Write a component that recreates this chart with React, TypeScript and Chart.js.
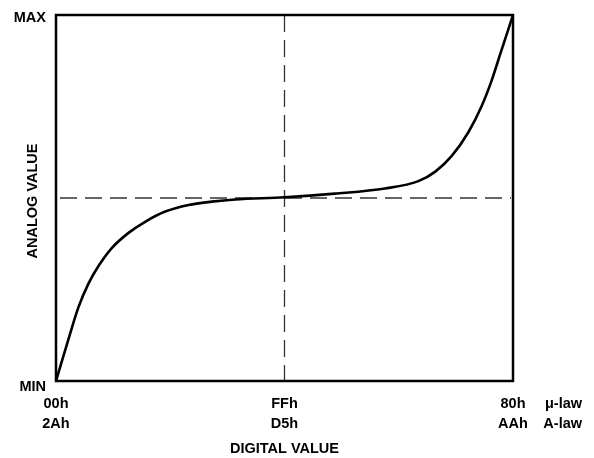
import React, { useEffect, useRef } from "react";
import { Chart, registerables } from "chart.js";

Chart.register(...registerables);

// Digital code position (0..100 % of code range) and analog value (0..100 % of range)
const codePos: number[] = [0, 2.7, 4.9, 7.1, 9.3, 12.2, 15.8, 19.5, 23.9, 29.0, 34.1, 39.2, 50.0, 61.0, 72.0, 79.3, 83.0, 86.6, 90.2, 93.2, 95.3, 97.2, 100];
const analogVal: number[] = [0, 11.3, 20.1, 26.6, 31.4, 36.3, 40.4, 43.5, 46.3, 48.1, 49.0, 49.6, 50.2, 51.2, 52.6, 54.6, 57.2, 61.5, 67.9, 75.3, 82.0, 89.3, 100];

const xTickValues: number[] = [0, 50, 100];
const muLawLabels: string[] = ["00h", "FFh", "80h"];
const aLawLabels: string[] = ["2Ah", "D5h", "AAh"];
const lawNames: string[] = ["\u03bc-law", "A-law"];
const yTickValues: number[] = [100, 0];
const yTickLabels: string[] = ["MAX", "MIN"];
const xTitle = "DIGITAL VALUE";
const yTitle = "ANALOG VALUE";
const midValue = 50;

const FONT = "bold 14.5px 'Liberation Sans', Arial, sans-serif";

const decorPlugin = {
  id: "decor",
  beforeDatasetsDraw(chart: any) {
    const { ctx, chartArea, scales } = chart;
    const x = scales.x, y = scales.y;
    ctx.save();
    ctx.strokeStyle = "#333";
    ctx.lineWidth = 1.3;
    ctx.setLineDash([17, 8]);
    const ym = y.getPixelForValue(midValue);
    ctx.beginPath();
    ctx.moveTo(chartArea.left + 4, ym);
    ctx.lineTo(chartArea.right - 2, ym);
    ctx.stroke();
    const xm = x.getPixelForValue(midValue);
    ctx.beginPath();
    ctx.moveTo(xm, chartArea.top);
    ctx.lineTo(xm, chartArea.bottom);
    ctx.stroke();
    ctx.restore();
  },
  afterDraw(chart: any) {
    const { ctx, chartArea, scales } = chart;
    const x = scales.x, y = scales.y;
    ctx.save();
    // frame
    ctx.strokeStyle = "#000";
    ctx.lineWidth = 2.5;
    ctx.strokeRect(chartArea.left, chartArea.top, chartArea.right - chartArea.left, chartArea.bottom - chartArea.top);
    ctx.fillStyle = "#000";
    ctx.font = FONT;
    ctx.textBaseline = "middle";
    // y labels
    ctx.textAlign = "right";
    yTickValues.forEach((v, i) => {
      const py = y.getPixelForValue(v);
      ctx.fillText(yTickLabels[i], chartArea.left - 10, py + (v === 0 ? 6 : 3));
    });
    // x labels
    ctx.textAlign = "center";
    xTickValues.forEach((v, i) => {
      const px = x.getPixelForValue(v);
      ctx.fillText(muLawLabels[i], px, chartArea.bottom + 23);
      ctx.fillText(aLawLabels[i], px, chartArea.bottom + 43);
    });
    ctx.textAlign = "right";
    ctx.fillText(lawNames[0], 582, chartArea.bottom + 23);
    ctx.fillText(lawNames[1], 582, chartArea.bottom + 43);
    // titles
    ctx.textAlign = "center";
    ctx.fillText(xTitle, (chartArea.left + chartArea.right) / 2, chartArea.bottom + 68);
    ctx.translate(33, (chartArea.top + chartArea.bottom) / 2 + 3);
    ctx.rotate(-Math.PI / 2);
    ctx.fillText(yTitle, 0, 0);
    ctx.restore();
  },
};

export default function App() {
  const ref = useRef<HTMLCanvasElement | null>(null);
  useEffect(() => {
    if (!ref.current) return;
    const chart = new Chart(ref.current, {
      type: "line",
      data: {
        datasets: [
          {
            data: codePos.map((c, i) => ({ x: c, y: analogVal[i] })),
            borderColor: "#000",
            borderWidth: 2.6,
            pointRadius: 0,
            cubicInterpolationMode: "monotone",
            fill: false,
          },
        ],
      },
      options: {
        animation: false,
        responsive: false,
        maintainAspectRatio: false,
        layout: { padding: { left: 56, top: 15, right: 81, bottom: 77 } },
        plugins: { legend: { display: false }, tooltip: { enabled: false } },
        scales: {
          x: { type: "linear", min: 0, max: 100, display: false },
          y: { type: "linear", min: 0, max: 100, display: false },
        },
      },
      plugins: [decorPlugin],
    } as any);
    return () => chart.destroy();
  }, []);
  return (
    <div style={{ position: "absolute", left: 0, top: 0, width: 594, height: 458, background: "#fff" }}>
      <canvas ref={ref} width={594} height={458} style={{ display: "block" }} />
    </div>
  );
}
